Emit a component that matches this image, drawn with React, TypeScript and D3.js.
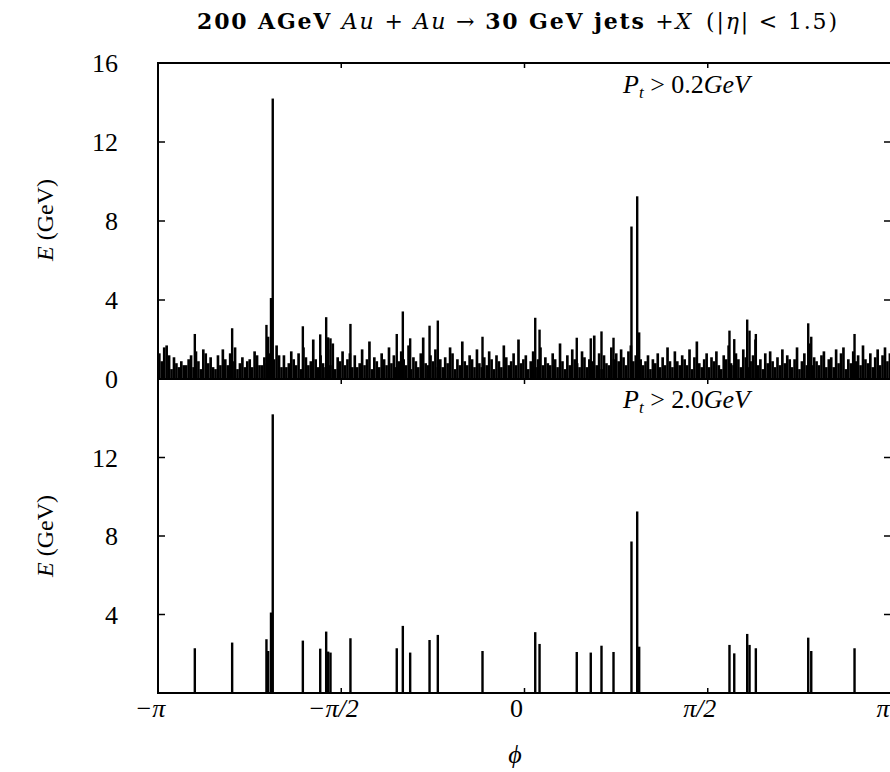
import React from 'react';
import * as d3 from 'd3';

// soft background: energy per phi bin (300 bins over -pi..pi), all particles Pt > 0.2 GeV
const softBins = [
  1.3, 0.9, 1.6, 1.7, 1.2, 0.5, 1.1, 0.8, 0.6, 0.9,
  0.7, 0.7, 1.0, 1.2, 0.6, 1.4, 0.9, 0.5, 1.5, 1.3,
  0.8, 1.1, 0.6, 0.5, 1.2, 0.7, 1.5, 1.0, 0.7, 1.3,
  0.9, 1.6, 0.5, 0.8, 1.1, 0.6, 0.9, 1.0, 0.6, 1.4,
  1.2, 0.7, 0.7, 1.1, 0.8, 1.3, 0.5, 1.0, 1.7, 1.2,
  0.6, 1.2, 0.6, 0.8, 1.4, 1.0, 0.7, 1.3, 0.5, 1.6,
  1.1, 0.7, 0.9, 2.0, 1.0, 0.6, 1.2, 0.8, 0.6, 1.5,
  0.7, 1.8, 0.5, 1.1, 0.9, 1.4, 0.7, 1.0, 1.3, 0.6,
  1.2, 0.6, 0.8, 1.5, 0.7, 1.0, 1.9, 0.5, 1.1, 0.9,
  0.6, 1.3, 1.0, 0.7, 1.6, 0.8, 1.2, 0.6, 0.9, 1.4,
  1.0, 0.7, 1.7, 0.5, 1.1, 0.9, 0.6, 1.3, 2.1, 0.8,
  0.7, 1.2, 0.9, 1.5, 0.6, 1.0, 0.6, 1.1, 0.8, 1.6,
  1.3, 0.5, 1.0, 0.7, 1.9, 0.9, 0.7, 1.2, 1.0, 0.6,
  1.5, 0.8, 0.6, 1.1, 0.7, 1.4, 1.0, 0.5, 1.2, 0.9,
  0.6, 1.7, 1.1, 0.7, 0.9, 1.3, 0.7, 2.0, 0.8, 1.0,
  1.2, 0.5, 0.9, 1.4, 0.6, 1.0, 1.6, 0.7, 1.1, 0.8,
  0.7, 1.3, 1.0, 0.6, 1.8, 0.9, 0.5, 1.2, 0.7, 1.5,
  1.0, 0.8, 0.6, 1.4, 1.1, 0.6, 1.0, 0.9, 2.2, 0.7,
  1.3, 0.5, 1.2, 0.8, 0.7, 1.6, 1.0, 1.3, 0.9, 1.5,
  1.1, 0.7, 1.4, 1.7, 0.9, 1.2, 0.6, 1.0, 0.7, 0.9,
  1.2, 0.5, 1.0, 0.8, 1.3, 0.6, 1.1, 0.7, 1.6, 0.9,
  0.6, 1.4, 0.9, 0.7, 1.2, 1.0, 0.7, 1.5, 0.5, 1.1,
  1.9, 0.8, 0.6, 1.0, 1.3, 0.6, 1.1, 0.9, 1.4, 0.7,
  0.5, 1.2, 1.0, 1.7, 0.8, 0.7, 1.3, 1.0, 0.6, 1.5,
  1.1, 0.6, 0.9, 1.2, 2.0, 0.7, 1.0, 0.5, 1.3, 0.8,
  1.4, 0.9, 0.6, 1.1, 0.7, 1.5, 0.8, 1.2, 1.0, 0.6,
  1.0, 1.6, 0.5, 0.9, 1.3, 0.7, 1.8, 0.7, 1.1, 0.9,
  0.7, 1.2, 1.4, 0.6, 1.0, 1.1, 0.6, 1.5, 0.8, 1.3,
  1.6, 0.5, 1.0, 0.8, 1.4, 0.9, 1.2, 0.7, 1.7, 1.0,
  0.8, 1.3, 0.6, 1.1, 1.5, 0.7, 1.2, 1.6, 0.9, 1.3,
];

// hard particles (Pt > 2 GeV): azimuth and energy
const hardPhi = [
  -2.826, -2.506, -2.212, -2.197, -2.173, -2.158, -1.900, -1.751, -1.700, -1.683,
  -1.663, -1.492, -1.095, -1.043, -0.980, -0.814, -0.743, -0.360, 0.092, 0.129,
  0.448, 0.568, 0.660, 0.763, 0.917, 0.966, 0.983, 1.757, 1.798, 1.909,
  1.929, 1.983, 2.432, 2.458, 2.829,
];
const hardE = [
  2.28, 2.57, 2.74, 2.14, 4.1, 14.2, 2.67, 2.26, 3.13, 2.11,
  2.06, 2.79, 2.28, 3.42, 2.06, 2.70, 2.96, 2.14, 3.10, 2.50,
  2.09, 2.06, 2.41, 2.09, 7.72, 9.25, 2.36, 2.45, 2.02, 3.01,
  2.45, 2.28, 2.82, 2.14, 2.28,
];

const xTicks = [-Math.PI, -Math.PI / 2, 0, Math.PI / 2, Math.PI];
const xTickLabels = ['\u2212\u03c0', '\u2212\u03c0/2', '0', '\u03c0/2', '\u03c0'];
const topYTicks = [0, 4, 8, 12, 16];
const botYTicks = [4, 8, 12];

const W = 890;
const H = 772;
const serif = '"Liberation Serif", "DejaVu Serif", serif';

const App: React.FC = () => {
  const x = d3.scaleLinear().domain([-Math.PI, Math.PI]).range([158, 891]);
  const yTop = d3.scaleLinear().domain([0, 16]).range([379, 63]);
  const yBot = d3.scaleLinear().domain([0, 16]).range([693, 379]);

  const binW = (2 * Math.PI) / softBins.length;
  const hard = hardPhi.map((p, i) => ({ phi: p, e: hardE[i] }));

  const left = x(-Math.PI);
  const right = x(Math.PI);

  const yLabel = (cy: number) => (
    <text transform={`translate(53,${cy}) rotate(-90)`} textAnchor="middle" fontSize={24}>
      <tspan fontStyle="italic">E</tspan> (GeV)
    </text>
  );

  const panelLabel = (y: number, cut: string) => (
    <text x={623} y={y} fontSize={26}>
      <tspan fontStyle="italic">P</tspan>
      <tspan fontStyle="italic" fontSize={17} dy={5}>t</tspan>
      <tspan dy={-5}> &gt; {cut}</tspan>
      <tspan fontStyle="italic">GeV</tspan>
    </text>
  );

  return (
    <div style={{ position: 'absolute', left: 0, top: 0 }}>
      <svg width={W} height={H} viewBox={`0 0 ${W} ${H}`} fontFamily={serif} style={{ display: 'block', background: '#fff' }}>
        {/* title */}
        <text x={197} y={29} fontSize={22} fontFamily='"DejaVu Serif", serif' textLength={640} lengthAdjust="spacing">
          <tspan fontWeight="bold">200 AGeV </tspan>
          <tspan fontStyle="italic">Au</tspan>
          <tspan> + </tspan>
          <tspan fontStyle="italic">Au</tspan>
          <tspan> {'\u2192'} </tspan>
          <tspan fontWeight="bold">30 GeV jets </tspan>
          <tspan>+</tspan>
          <tspan fontStyle="italic">X</tspan>
          <tspan>{'\u2002'}(|</tspan>
          <tspan fontStyle="italic">{'\u03b7'}</tspan>
          <tspan>| &lt; 1.5)</tspan>
        </text>

        {/* top panel: soft background */}
        <g fill="#000">
          {softBins.map((v, i) => {
            const x0 = x(-Math.PI + i * binW);
            const x1 = x(-Math.PI + (i + 1) * binW);
            return <rect key={i} x={x0} y={yTop(v)} width={x1 - x0 + 0.2} height={yTop(0) - yTop(v)} />;
          })}
        </g>
        {/* top panel: hard particles */}
        <g fill="#000">
          {hard.map((d, i) => (
            <rect key={i} x={x(d.phi) - 1.2} y={yTop(d.e)} width={2.4} height={yTop(0) - yTop(d.e)} />
          ))}
        </g>
        {/* bottom panel: hard particles only */}
        <g fill="#000">
          {hard.map((d, i) => (
            <rect key={i} x={x(d.phi) - 1.2} y={yBot(d.e)} width={2.4} height={yBot(0) - yBot(d.e)} />
          ))}
        </g>

        {/* frames */}
        <g stroke="#000" strokeWidth={2} fill="none">
          <rect x={left} y={yTop(16)} width={right - left} height={yBot(0) - yTop(16)} />
          <line x1={left} x2={right} y1={yTop(0)} y2={yTop(0)} />
        </g>

        {/* ticks */}
        <g stroke="#000" strokeWidth={1.5}>
          {xTicks.slice(1, 4).map((t, i) => (
            <g key={i}>
              <line x1={x(t)} x2={x(t)} y1={yTop(16)} y2={yTop(16) + 5} />
              <line x1={x(t)} x2={x(t)} y1={yBot(16)} y2={yBot(16) + 5} />
              <line x1={x(t)} x2={x(t)} y1={yBot(0)} y2={yBot(0) - 5} />
            </g>
          ))}
          {botYTicks.map((t) => (
            <g key={t}>
              <line x1={left} x2={left + 7} y1={yTop(t)} y2={yTop(t)} />
              <line x1={right} x2={right - 7} y1={yTop(t)} y2={yTop(t)} />
              <line x1={left} x2={left + 7} y1={yBot(t)} y2={yBot(t)} />
              <line x1={right} x2={right - 7} y1={yBot(t)} y2={yBot(t)} />
            </g>
          ))}
        </g>

        {/* y tick labels */}
        <g fontSize={26} textAnchor="end">
          {topYTicks.map((t) => (
            <text key={t} x={118} y={yTop(t)} dy="0.35em">{t}</text>
          ))}
          {botYTicks.map((t) => (
            <text key={t} x={118} y={yBot(t)} dy="0.35em">{t}</text>
          ))}
        </g>

        {/* x tick labels */}
        <g fontSize={26} textAnchor="middle">
          {xTicks.map((t, i) => (
            <text key={i} x={x(t) - 8} y={717} fontStyle={i === 2 ? 'normal' : 'italic'}>
              {xTickLabels[i]}
            </text>
          ))}
        </g>

        {yLabel(220)}
        {yLabel(536)}
        {panelLabel(93, '0.2')}
        {panelLabel(408, '2.0')}

        <text x={515} y={763} textAnchor="middle" fontSize={26} fontStyle="italic">{'\u03d5'}</text>
      </svg>
    </div>
  );
};

export default App;
